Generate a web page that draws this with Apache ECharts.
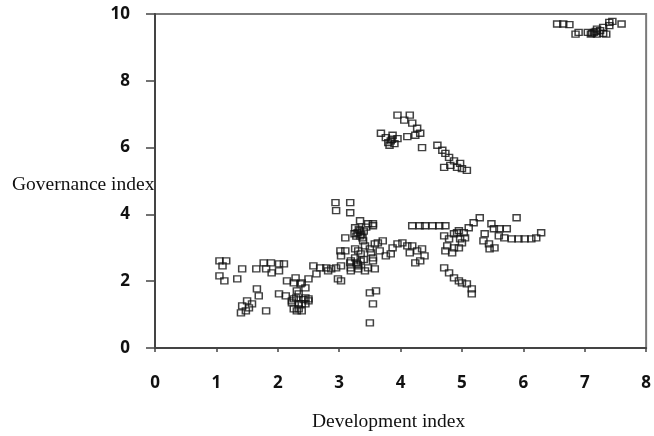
<!DOCTYPE html>
<html>
<head>
<meta charset="utf-8">
<script src="https://cdn.jsdelivr.net/npm/echarts@6/dist/echarts.min.js"></script>
<style>html,body{margin:0;padding:0;background:#fff}#c{width:654px;height:436px}</style>
</head>
<body>
<div id="c"></div>
<script>
// Tick labels
var xTicks = [0,1,2,3,4,5,6,7,8];
var yTicks = [0,2,4,6,8,10];
var xTitle = 'Development index';
var yTitle = 'Governance index';

// Top-right cluster
var topDev = [6.55,6.65,6.75,6.85,6.9,7.05,7.1,7.15,7.2,7.2,7.25,7.3,7.3,7.4,7.45,7.4,7.6,7.35,7.18,7.12];
var topGov = [9.7,9.7,9.68,9.4,9.45,9.45,9.4,9.45,9.4,9.55,9.5,9.6,9.42,9.75,9.78,9.65,9.7,9.4,9.48,9.42];

// Middle cluster
var midDev = [3.95,4.15,4.06,4.19,4.27,4.32,4.24,3.68,3.76,3.84,3.9,3.82,3.95,3.87,4.11,4.35,
              4.6,4.68,4.73,4.79,4.87,4.71,4.81,4.92,5.0,5.08,4.97,3.8,3.86];
var midGov = [6.97,6.97,6.82,6.73,6.58,6.43,6.37,6.43,6.3,6.2,6.12,6.07,6.27,6.37,6.33,6.0,
              6.07,5.92,5.83,5.71,5.6,5.41,5.47,5.41,5.37,5.32,5.53,6.15,6.25];

// Lower band
var lowDev = [1.05,1.16,1.1,1.05,1.13,1.34,1.42,1.65,1.77,1.89,2.02,2.1,1.81,1.9,2.02,
  1.66,1.69,1.5,1.58,1.42,1.48,1.4,1.81,1.53,
  2.15,2.26,2.37,2.02,2.13,2.23,2.34,2.26,
  2.5,2.58,2.69,2.79,2.87,2.95,3.03,2.98,3.03,2.63,2.45,2.34,2.45,2.23,2.45,2.5,2.31,2.39,
  3.19,3.35,3.26,3.42,3.52,3.19,3.31,3.47,3.58,3.1,3.5,3.55,3.5,
  2.94,3.18,2.95,3.18,3.34,3.47,3.55,3.26,3.34,3.34,3.1,3.39,3.02,3.03,3.31,3.5,3.26,3.18,3.31,3.19,3.42,2.82,2.29,2.39,2.31,2.26,2.39,2.34,2.5,3.58,3.55,
  3.3,3.36,3.28,3.4,3.35,3.4,3.28,2.42,2.3,3.32,3.38,3.25,3.44,3.3,
  4.19,4.31,4.4,4.52,4.63,4.73,4.71,4.79,4.87,4.95,4.76,4.87,4.73,4.84,
  3.63,3.71,3.66,3.76,3.84,3.87,3.95,4.03,4.11,4.19,4.15,4.27,4.35,4.39,4.24,4.32,3.55,3.55,3.6,
  4.71,4.79,4.87,4.95,
  4.95,4.97,5.03,5.11,5.19,5.29,4.92,5.05,5.0,5.48,5.52,5.37,5.35,5.44,5.45,5.53,5.61,5.73,5.6,5.69,5.81,5.92,6.02,6.13,6.21,6.29,5.89,
  5.0,5.08,5.16,5.16];
var lowGov = [2.61,2.61,2.46,2.16,2.01,2.07,2.37,2.37,2.55,2.55,2.52,2.52,2.37,2.25,2.31,
  1.77,1.56,1.41,1.32,1.26,1.11,1.05,1.11,1.2,
  2.01,1.95,1.92,1.62,1.56,1.41,1.32,1.17,
  2.07,2.46,2.4,2.4,2.37,2.4,2.46,2.07,2.01,2.22,1.8,1.62,1.5,1.35,1.32,1.47,1.11,1.11,
  2.61,2.82,2.97,3.06,2.85,2.4,2.37,2.4,2.37,2.91,1.65,1.32,0.75,
  4.35,4.35,4.11,4.05,3.81,3.72,3.66,3.6,3.51,3.36,3.3,3.21,2.91,2.76,2.91,2.97,2.7,2.55,2.46,2.31,2.31,2.31,2.1,1.95,1.71,1.47,1.32,1.17,1.41,3.12,2.7,
  3.45,3.4,3.35,3.5,2.6,2.65,2.55,1.45,1.5,3.55,3.3,3.42,3.62,2.5,
  3.66,3.66,3.66,3.66,3.66,3.66,3.36,3.27,3.42,3.51,3.06,3.0,2.91,2.85,
  3.15,3.21,2.91,2.76,2.82,3.0,3.12,3.15,3.06,3.06,2.85,2.91,2.97,2.76,2.55,2.61,2.61,3.72,1.71,
  2.4,2.25,2.1,2.01,
  3.0,3.27,3.45,3.6,3.75,3.9,3.45,3.3,3.15,3.72,3.57,3.42,3.21,3.12,2.97,3.0,3.57,3.57,3.36,3.3,3.27,3.27,3.27,3.27,3.3,3.45,3.9,
  1.95,1.92,1.77,1.62];

var devIndex = topDev.concat(midDev, lowDev);
var govIndex = topGov.concat(midGov, lowGov);
var points = devIndex.map(function (x, i) { return [x, govIndex[i]]; });

var chart = echarts.init(document.getElementById('c'), null, {renderer: 'canvas'});
var labelFont = {fontFamily: 'Open Sans', fontWeight: 'bold', fontSize: 17, color: '#111'};
chart.setOption({
  animation: false,
  backgroundColor: '#fff',
  grid: {left: 155, right: 3, top: 14, bottom: 88, show: true, borderColor: '#7a7a7a', borderWidth: 2, backgroundColor: 'transparent'},
  xAxis: {
    type: 'value', min: xTicks[0], max: xTicks[xTicks.length - 1], interval: 1,
    axisLine: {show: true, onZero: false, lineStyle: {color: '#444', width: 2}},
    axisTick: {show: true, length: 4, lineStyle: {color: '#444', width: 1.5}},
    splitLine: {show: false},
    axisLabel: Object.assign({margin: 27}, labelFont)
  },
  yAxis: {
    type: 'value', min: yTicks[0], max: yTicks[yTicks.length - 1], interval: 2,
    axisLine: {show: true, onZero: false, lineStyle: {color: '#444', width: 2}},
    axisTick: {show: true, length: 9, lineStyle: {color: '#444', width: 1.5}},
    splitLine: {show: false},
    axisLabel: Object.assign({margin: 25}, labelFont)
  },
  graphic: [
    {type: 'text', left: 12, top: 175, style: {text: yTitle, font: '19.5px "Liberation Serif"', fill: '#111'}},
    {type: 'text', left: 312, top: 412, style: {text: xTitle, font: '19.5px "Liberation Serif"', fill: '#111'}}
  ],
  series: [{
    type: 'scatter',
    data: points,
    symbol: 'rect',
    symbolSize: [7, 6],
    itemStyle: {color: 'rgba(0,0,0,0)', borderColor: '#111', borderWidth: 1.4}
  }]
});
</script>
</body>
</html>
